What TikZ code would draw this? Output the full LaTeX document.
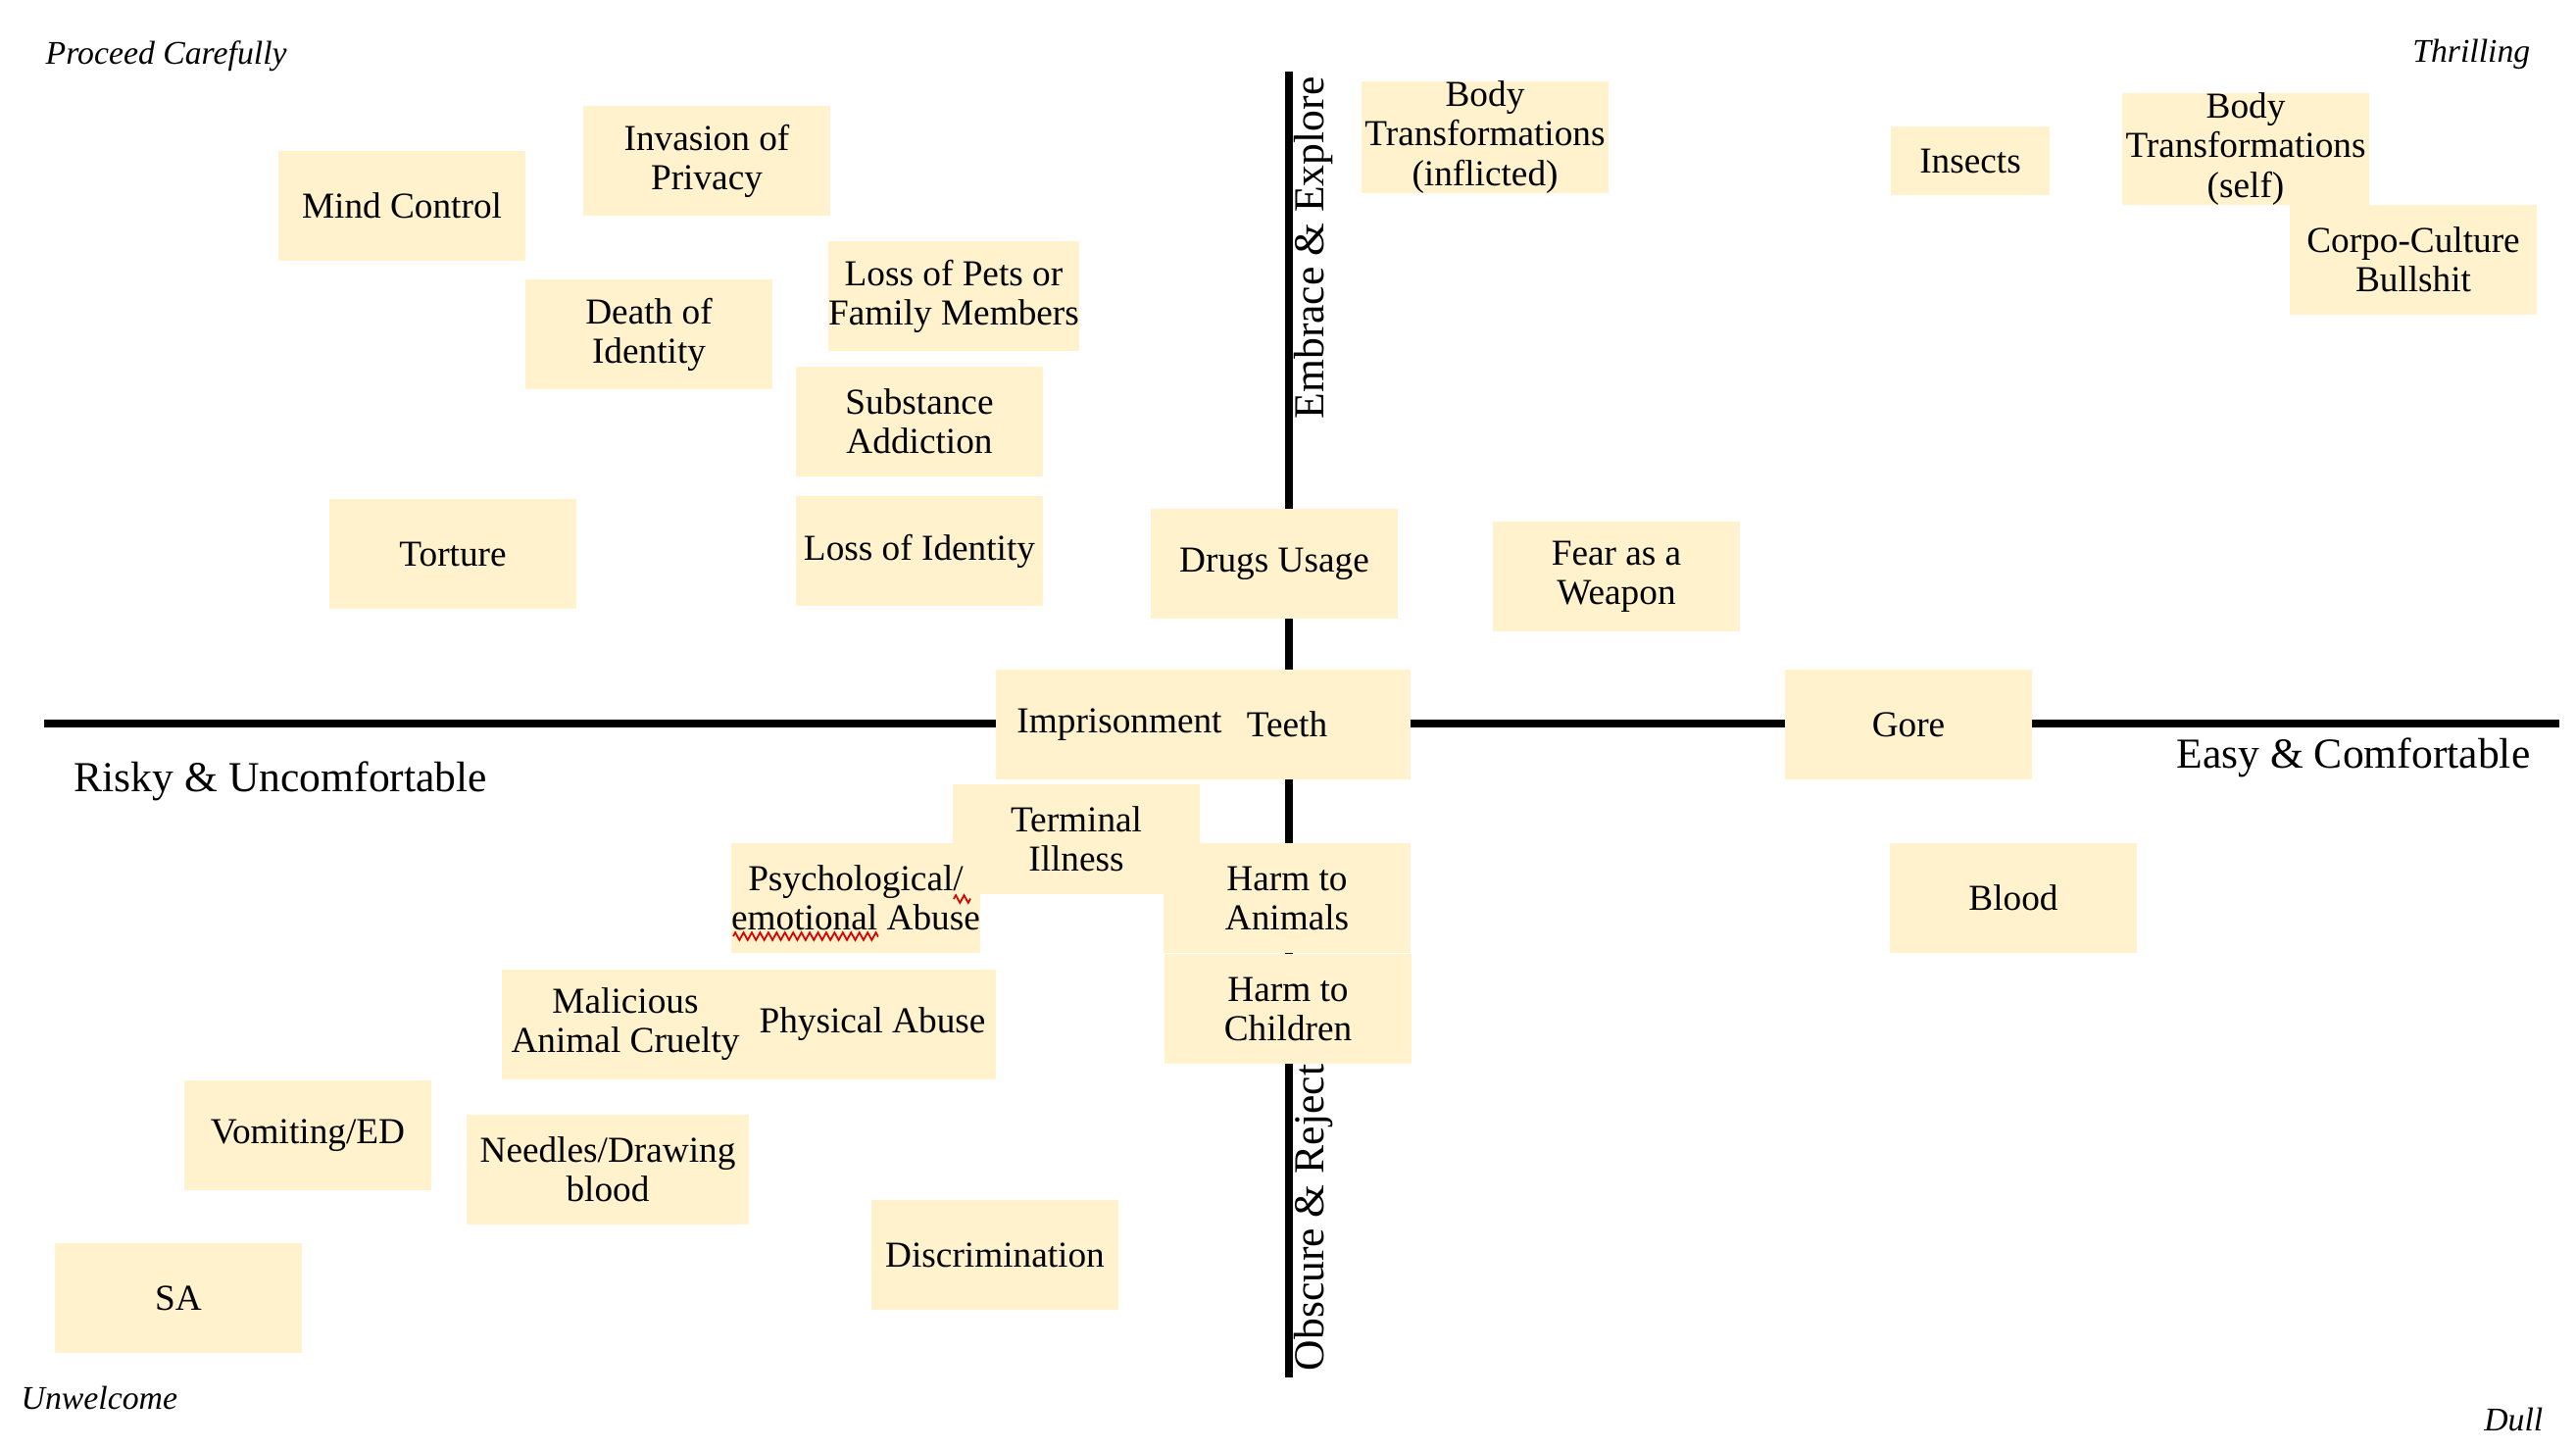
\documentclass[tikz,border=0pt]{standalone}
\usepackage{fontspec}
\setmainfont{Liberation Serif}
\usepackage{xcolor}
\usepackage{tikz}
\usetikzlibrary{decorations.pathmorphing}
\definecolor{notefill}{HTML}{FFF2CC}
\newcommand{\notefont}{\fontsize{10.6}{11.4}\selectfont}
\newcommand{\axisfont}{\fontsize{12.4}{14}\selectfont}
\newcommand{\cornerfont}{\fontsize{9.6}{11}\selectfont\itshape}

\begin{document}
\begin{tikzpicture}[x=0.01cm,y=-0.01cm,
    note/.style={fill=notefill,minimum width=2.52cm,minimum height=1.12cm,
      inner sep=0pt,align=center,font=\notefont},
    axis/.style={line width=2.3pt},
    axislabel/.style={font=\axisfont,inner sep=0pt},
    corner/.style={font=\cornerfont,inner sep=0pt},
    squiggle/.style={red!85!black,line width=0.5pt,
      decorate,decoration={zigzag,amplitude=1.1pt,segment length=2.4pt}}]
  \useasboundingbox (0,0) rectangle (2628,1478);

  \coordinate (west) at (45,738);
  \coordinate (east) at (2611,738);
  \coordinate (north) at (1315,73);
  \coordinate (south) at (1315,1405);
  \draw[axis] (west) -- (east);
  \draw[axis] (north) -- (south);

  \node[axislabel,rotate=90] (embrace) at (1340,253) {Embrace \& Explore};
  \node[axislabel,rotate=90] (obscure) at (1340,1242) {Obscure \& Reject};
  \node[axislabel,anchor=base west] (risky) at (75,807) {Risky \& Uncomfortable};
  \node[axislabel,anchor=base east] (easy) at (2582,783) {Easy \& Comfortable};

  \node[corner,anchor=base west] (careful) at (46,65) {Proceed Carefully};
  \node[corner,anchor=base east] (thrill) at (2582,63) {Thrilling};
  \node[corner,anchor=base west] (unwelcome) at (21,1437) {Unwelcome};
  \node[corner,anchor=base east] (dull) at (2595,1459) {Dull};

  \node[note] (mind) at (410,210) {Mind Control};
  \node[note] (privacy) at (721,164) {Invasion of\\Privacy};
  \node[note] (death) at (662,341) {Death of\\Identity};
  \node[note] (pets) at (973,302) {Loss of Pets or\\Family Members};
  \node[note] (substance) at (938,430) {Substance\\Addiction};
  \node[note] (torture) at (462,565) {Torture};
  \node[note] (lossid) at (938,562) {Loss of Identity};
  \node[note] (drugs) at (1300,575) {Drugs Usage};
  \node[note] (fear) at (1649,588) {Fear as a\\Weapon};
  \node[note] (inflicted) at (1515,140) {Body\\Transformations\\(inflicted)};
  \node[note,minimum width=1.62cm,minimum height=0.69cm] (insects) at (2010,164) {Insects};
  \node[note] (self) at (2291,152) {Body\\Transformations\\(self)};
  \node[note] (corpo) at (2462,265) {Corpo-Culture\\Bullshit};

  \node[note] (teeth) at (1313,739) {Teeth};
  \node[note] (prison) at (1142,739) {Imprisonment};
  \node[note] (terminal) at (1098,856) {Terminal\\Illness};
  \node[note] (psych) at (873,916) {Psychological/\\emotional Abuse};
  \node[note] (animals) at (1313,916) {Harm to\\Animals};
  \node[note] (children) at (1314,1029) {Harm to\\Children};
  \node[note] (cruelty) at (638,1045) {Malicious\\Animal Cruelty};
  \node[note] (physical) at (890,1045) {Physical Abuse};
  \node[note] (vomit) at (314,1158) {Vomiting/ED};
  \node[note,minimum width=2.88cm] (needles) at (620,1193) {Needles/Drawing\\blood};
  \node[note] (discrim) at (1015,1280) {Discrimination};
  \node[note] (sa) at (182,1324) {SA};
  \node[note] (gore) at (1947,739) {Gore};
  \node[note] (blood) at (2054,916) {Blood};

  \draw[squiggle] (748,955) -- (896,955);
  \draw[squiggle] (973,917) -- (990,917);
\end{tikzpicture}
\end{document}
